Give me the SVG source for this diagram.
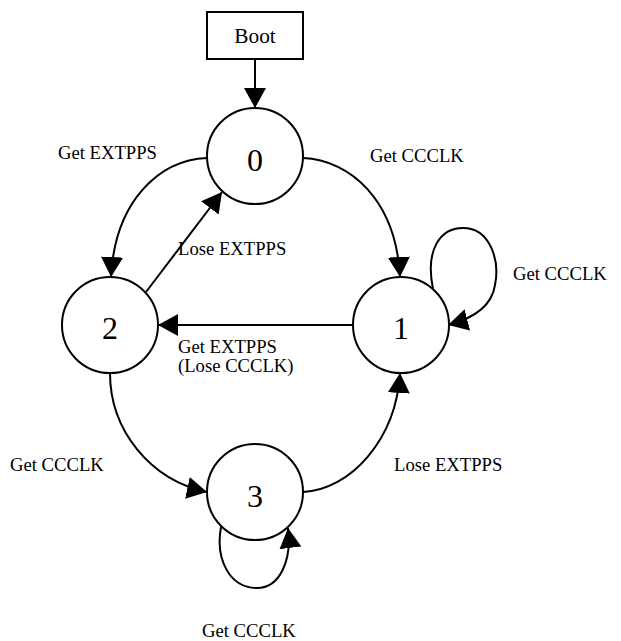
<svg xmlns="http://www.w3.org/2000/svg" width="621" height="641" viewBox="0 0 621 641">
<style>
.n{fill:#fff;stroke:#000;stroke-width:2}
.e{fill:none;stroke:#000;stroke-width:2}
.t{font-family:"Liberation Serif","Times New Roman",serif;font-size:18.67px;fill:#000}
.b{font-family:"Liberation Serif","Times New Roman",serif;font-size:21.33px;fill:#000;text-anchor:middle}
.d{font-family:"Liberation Serif","Times New Roman",serif;font-size:32px;fill:#000;text-anchor:middle}
</style>
<defs>
<marker id="a" markerUnits="userSpaceOnUse" markerWidth="21" markerHeight="22" refX="20" refY="11" orient="auto">
<path d="M0,0 L20,11 L0,22 z" fill="#000"/>
</marker>
</defs>
<g id="connectors">
<path class="e" d="M255,59 L255,108" marker-end="url(#a)"/>
<path class="e" d="M303,158 C350,160 396,200 400,277" marker-end="url(#a)"/>
<path class="e" d="M207,158 C160,160 115,200 111,277" marker-end="url(#a)"/>
<path class="e" d="M146,292 L222,192" marker-end="url(#a)"/>
<path class="e" d="M353,325 L158,325" marker-end="url(#a)"/>
<path class="e" d="M433,289 C425,250 440,228 463,228 C490,228 500,260 495,285 C492,305 475,318 448,325" marker-end="url(#a)"/>
<path class="e" d="M110,373 C110,430 150,480 207,492" marker-end="url(#a)"/>
<path class="e" d="M303,492 C350,490 396,440 400,373" marker-end="url(#a)"/>
<path class="e" d="M221,527 C215,560 230,588 257,588 C280,588 292,560 288,528" marker-end="url(#a)"/>
<text class="t" x="370" y="162">Get CCCLK</text>
<text class="t" x="58" y="159">Get EXTPPS</text>
<text class="t" x="178" y="255">Lose EXTPPS</text>
<text class="t" x="178" y="353">Get EXTPPS<tspan x="178" y="372">(Lose CCCLK)</tspan></text>
<text class="t" x="513" y="280">Get CCCLK</text>
<text class="t" x="10" y="471">Get CCCLK</text>
<text class="t" x="394" y="471">Lose EXTPPS</text>
<text class="t" x="202" y="637">Get CCCLK</text>
</g>
<g id="boot"><rect class="n" x="207" y="12" width="96" height="47"/><text class="b" x="255" y="43">Boot</text></g>
<g id="s0"><circle class="n" cx="255" cy="156" r="48"/><text class="d" x="255" y="171">0</text></g>
<g id="s1"><circle class="n" cx="401" cy="325" r="48"/><text class="d" x="401" y="339">1</text></g>
<g id="s2"><circle class="n" cx="110" cy="325" r="48"/><text class="d" x="110" y="339">2</text></g>
<g id="s3"><circle class="n" cx="255" cy="492" r="48"/><text class="d" x="255" y="507">3</text></g>
</svg>
